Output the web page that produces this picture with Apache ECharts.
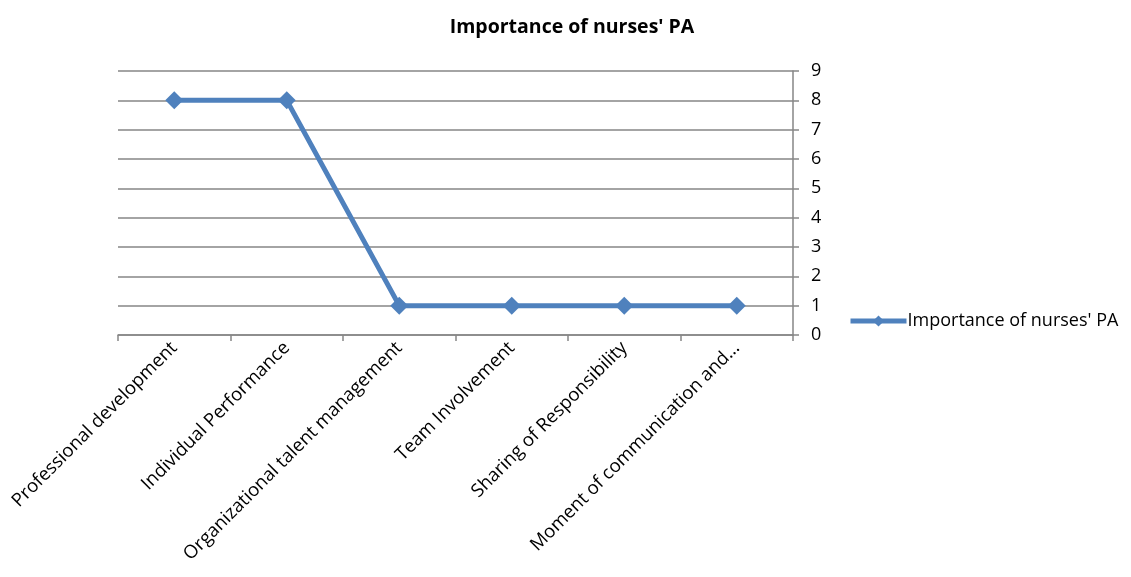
<!DOCTYPE html>
<html>
<head>
<meta charset="utf-8">
<script src="https://cdn.jsdelivr.net/npm/echarts@6/dist/echarts.min.js"></script>
<style>html,body{margin:0;padding:0;background:#fff;}#c{width:1131px;height:577px;}</style>
</head>
<body>
<div id="c"></div>
<script>
const categories = ["Professional development", "Individual Performance", "Organizational talent management", "Team Involvement", "Sharing of Responsibility", "Moment of communication and..."];
const seriesName = "Importance of nurses' PA";
const values = [8, 8, 1, 1, 1, 1];
const yTicks = [0, 1, 2, 3, 4, 5, 6, 7, 8, 9];

const chart = echarts.init(document.getElementById('c'));
const font = "'Open Sans', 'Liberation Sans', sans-serif";
chart.setOption({
  animation: false,
  backgroundColor: '#fff',
  title: {
    text: "Importance of nurses' PA",
    left: 567, top: 12, textAlign: 'center',
    textStyle: { fontFamily: font, fontSize: 19.5, fontWeight: 'bold', color: '#000' }
  },
  legend: {
    data: [seriesName],
    left: 843, top: 307,
    itemWidth: 56, itemHeight: 14, itemGap: 4,
    lineStyle: { width: 5 },
    textStyle: { fontFamily: font, fontSize: 18, color: '#000', padding: [0,0,0,-4] }
  },
  grid: { left: 118, right: 338, top: 71, bottom: 242, containLabel: false },
  xAxis: {
    type: 'category',
    data: categories,
    boundaryGap: true,
    axisLine: { lineStyle: { color: '#868686', width: 1.5 } },
    axisTick: { show: true, length: 6, alignWithLabel: false, lineStyle: { color: '#868686', width: 1.5 } },
    axisLabel: { rotate: 45, interval: 0, margin: 10, fontFamily: font, fontSize: 18.5, color: '#000' }
  },
  yAxis: {
    type: 'value',
    position: 'right',
    min: 0, max: 9, interval: 1,
    axisLine: { show: true, lineStyle: { color: '#868686', width: 1.5 } },
    axisTick: { show: true, length: 6, lineStyle: { color: '#868686', width: 1.5 } },
    axisLabel: {
      margin: 18, fontFamily: font, fontSize: 18, color: '#000',
      formatter: v => yTicks.includes(v) ? String(v) : ''
    },
    splitLine: { show: true, lineStyle: { color: '#868686', width: 1.5 } }
  },
  series: [{
    name: seriesName,
    type: 'line',
    data: values,
    symbol: 'diamond',
    symbolSize: 18,
    itemStyle: { color: '#4F81BD' },
    lineStyle: { color: '#4F81BD', width: 5 }
  }]
});
</script>
</body>
</html>
